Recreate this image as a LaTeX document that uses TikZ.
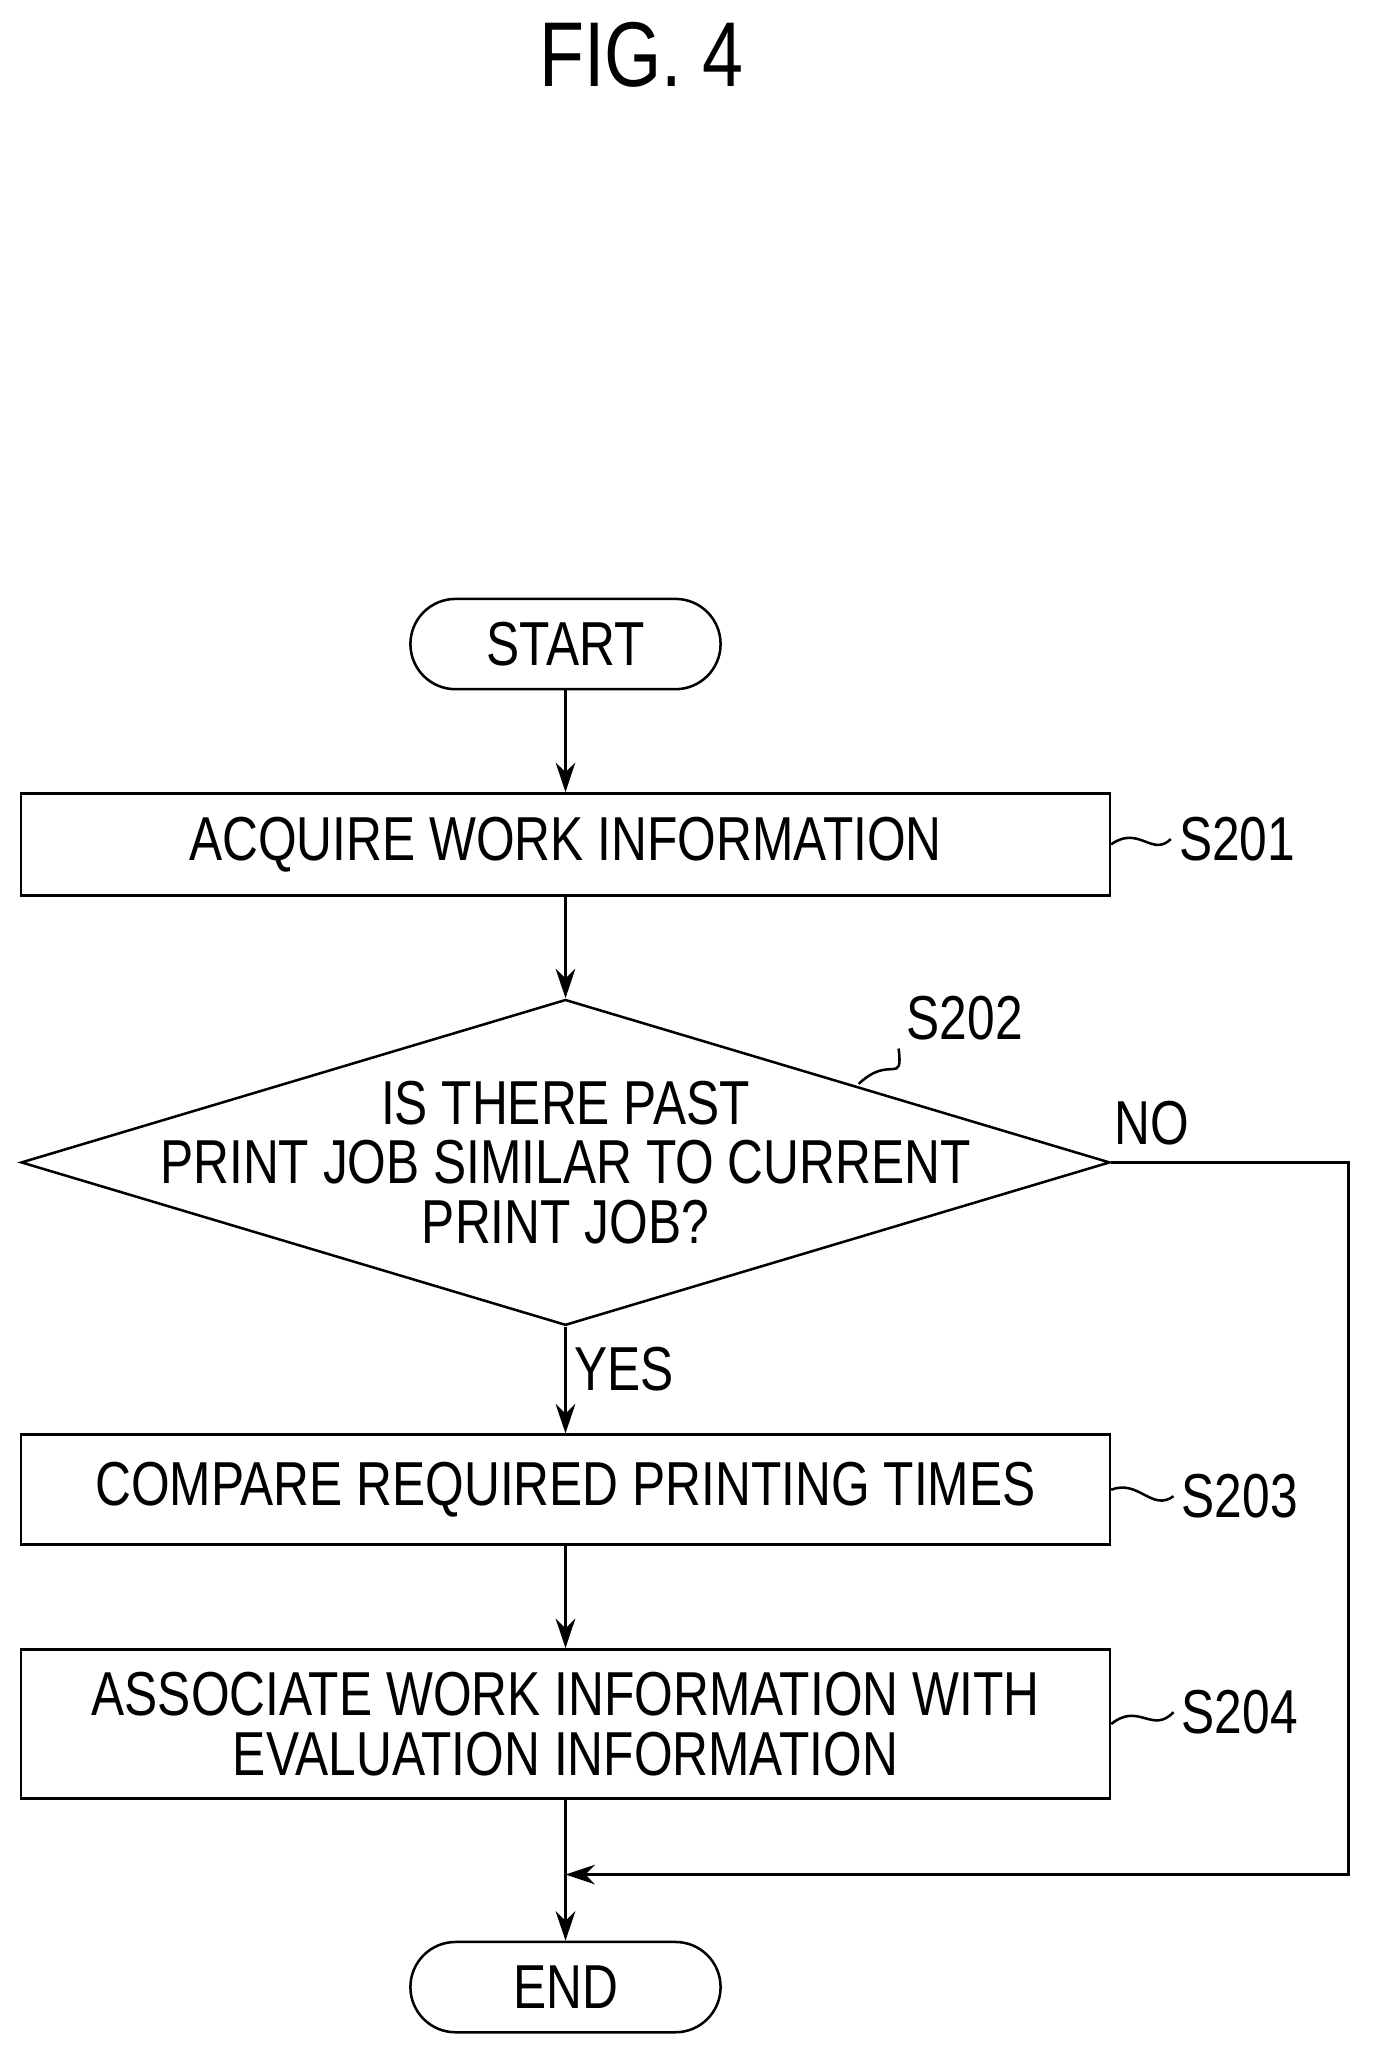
\documentclass[tikz,border=0pt]{standalone}
\usepackage{fontspec}
\setmainfont{Liberation Sans}[FakeStretch=0.8]
\usetikzlibrary{arrows.meta,positioning,shapes.geometric,calc}
\tikzset{
  box/.style={draw, line width=1.1pt, minimum width=16.64cm, minimum height=#1, align=center, font=\fontsize{27}{32}\selectfont},
  term/.style={draw, line width=1.1pt, rounded corners=0.69cm, minimum width=4.74cm, minimum height=1.38cm, font=\fontsize{27}{32}\selectfont},
  lbl/.style={font=\fontsize{27}{32}\selectfont},
  flow/.style={line width=1.1pt, -{Stealth[length=0.45cm,width=0.3cm]}},
  conn/.style={line width=1.1pt}
}
\begin{document}
\begin{tikzpicture}[x=0.02cm, y=-0.02cm]
  \useasboundingbox (0,0) rectangle (1056,1563);
  \node[font=\fontsize{40}{46}\selectfont] (title) at (490,42) {FIG. 4};
  % steps
  \node[term] (start) at (432,492) {START};
  \node[box=1.56cm] (s1) at (432,645) {ACQUIRE WORK INFORMATION};
  \node[draw, line width=1.1pt, diamond, aspect=3.34, minimum width=16.64cm, minimum height=4.98cm, inner sep=0pt] (s2) at (432,888) {};
  \node[lbl, align=center] (q) at (432,888) {IS THERE PAST\\[-6pt]PRINT JOB SIMILAR TO CURRENT\\[-6pt]PRINT JOB?};
  \node[box=1.68cm] (s3) at (432,1138) {COMPARE REQUIRED PRINTING TIMES};
  \node[box=2.28cm] (s4) at (432,1317) {ASSOCIATE WORK INFORMATION WITH\\[-6pt]EVALUATION INFORMATION};
  \node[term] (end) at (432,1518) {END};
  % step labels
  \node[lbl] (l1) at (945,641) {S201};
  \node[lbl] (l2) at (737,778) {S202};
  \node[lbl] (l3) at (947,1143) {S203};
  \node[lbl] (l4) at (947,1308) {S204};
  \draw[conn] (s1.east) .. controls (870,630) and (880,655) .. (l1.west);
  \draw[conn] (s3.east) .. controls (870,1130) and (880,1155) .. (l3.west);
  \draw[conn] (s4.east) .. controls (870,1300) and (880,1325) .. (l4.west);
  \coordinate (c2) at (656,828);
  \draw[conn] (c2) .. controls (680,805) and (690,830) .. (l2.south west);
  % arrows
  \draw[flow] (start) -- (s1);
  \draw[flow] (s1) -- (s2.north);
  \draw[flow] (s2.south) -- node[lbl, right, pos=0.4] (yes) {YES} (s3);
  \draw[flow] (s3) -- (s4);
  \draw[flow] (s4) -- (end);
  \coordinate (m) at (432,1432);
  \draw[flow] (s2.east) -- (1030,888) -- (1030,1432) -- (m);
  \node[lbl] (no) at (880,858) {NO};
\end{tikzpicture}
\end{document}
